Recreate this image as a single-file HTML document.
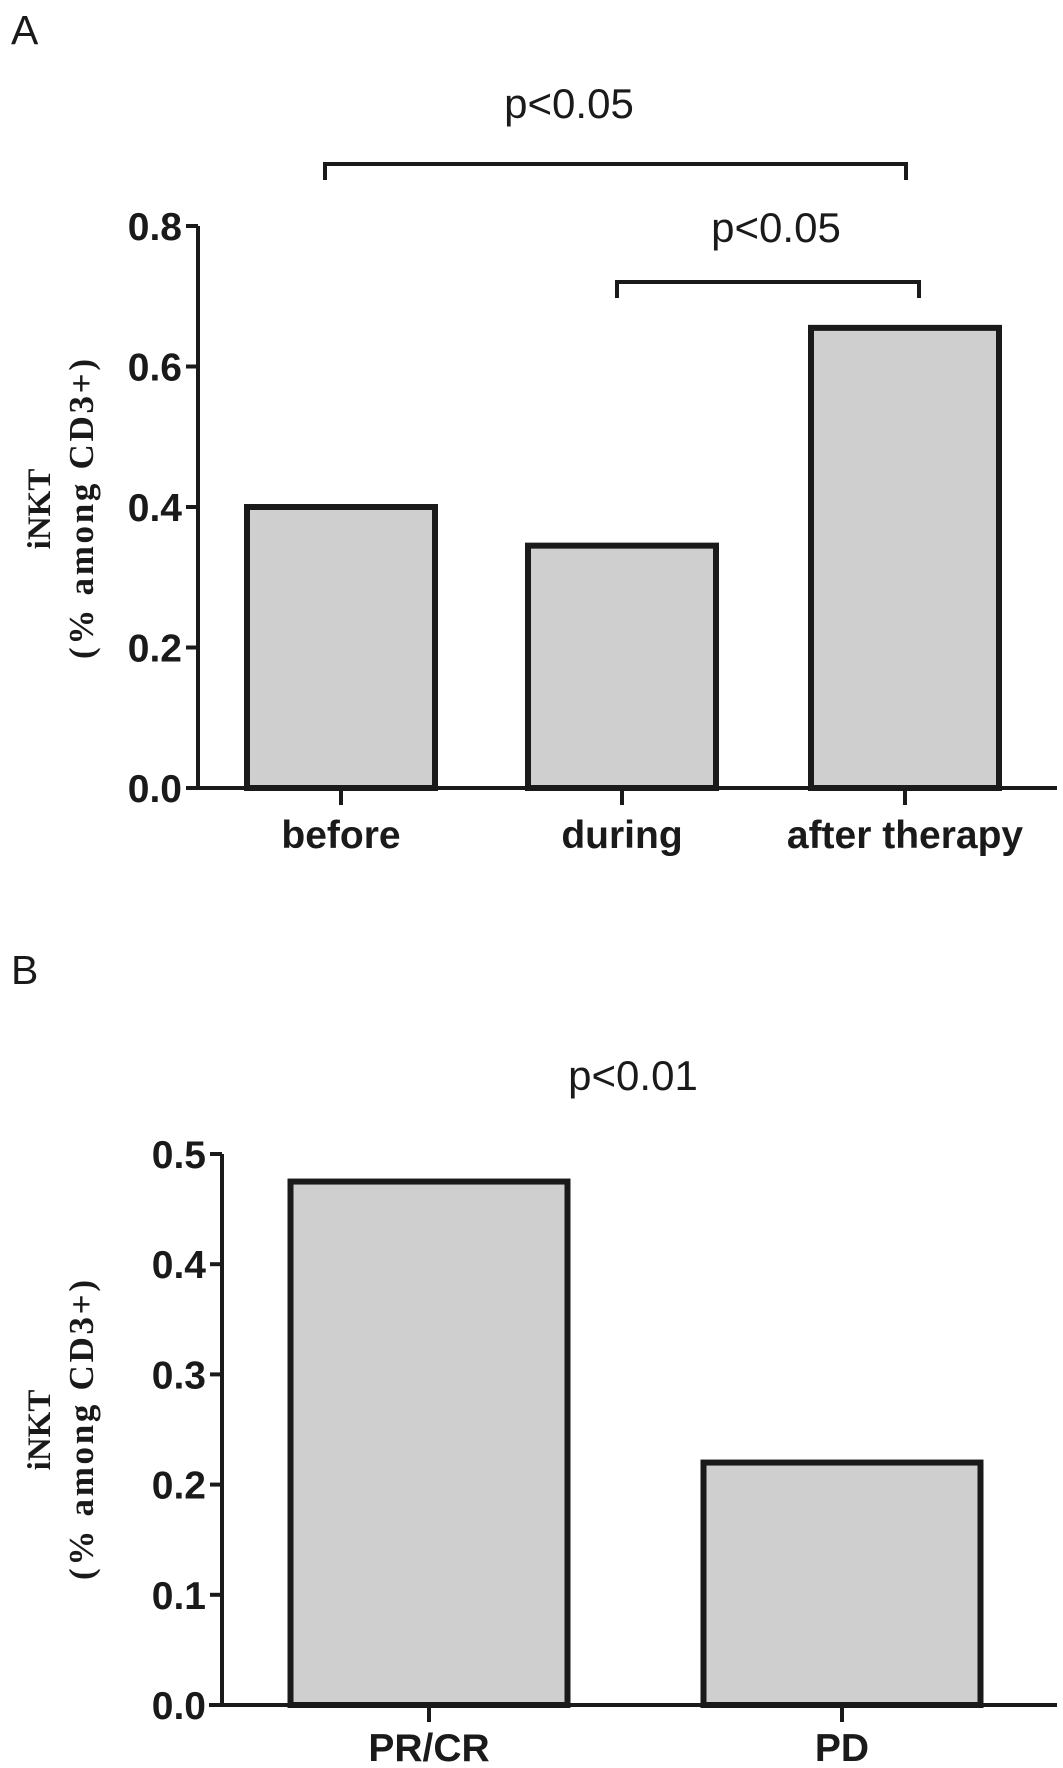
<!DOCTYPE html>
<html><head><meta charset="utf-8"><style>
html,body{margin:0;padding:0;background:#fff;}
svg{display:block;}
</style></head><body>
<svg id="fig" width="1063" height="1768" viewBox="0 0 1063 1768" xmlns="http://www.w3.org/2000/svg">
<g id="panelA"></g>
<g id="panelB"></g>
</svg>
<script>
const catsA = ["before","during","after therapy"];
const valsA = [0.40, 0.345, 0.655];
const ticksA = [0.0,0.2,0.4,0.6,0.8];
const tickLabelsA = ["0.0","0.2","0.4","0.6","0.8"];
const catsB = ["PR/CR","PD"];
const valsB = [0.475, 0.22];
const ticksB = [0.0,0.1,0.2,0.3,0.4,0.5];
const tickLabelsB = ["0.0","0.1","0.2","0.3","0.4","0.5"];
const NS="http://www.w3.org/2000/svg";
function mk(parent,tag,attrs,text){const e=document.createElementNS(NS,tag);for(const k in attrs)e.setAttribute(k,attrs[k]);if(text!==undefined)e.textContent=text;parent.appendChild(e);return e;}

function drawPanel(g,cfg){
  const y=v=>cfg.y0-(v-cfg.vmin)/(cfg.vmax-cfg.vmin)*(cfg.y0-cfg.y1);
  const x=i=>cfg.xc[i];
  cfg.vals.forEach((v,i)=>{
    const r=mk(g,'rect',{x:x(i)-cfg.bw/2,y:y(v),width:cfg.bw,height:cfg.y0-y(v),fill:'#cfcfcf',stroke:'#1a1a1a','stroke-width':6});
    
    
  });
  const ya=mk(g,'line',{x1:cfg.ax,y1:y(cfg.vmax),x2:cfg.ax,y2:cfg.y0+2,stroke:'#1a1a1a','stroke-width':4});
  
  
  const xa=mk(g,'line',{x1:cfg.xstart,y1:cfg.y0,x2:1057,y2:cfg.y0,stroke:'#1a1a1a','stroke-width':4});
  
  
  cfg.ticks.forEach((t,i)=>{
    const tl=mk(g,'line',{x1:cfg.ax-12,y1:y(t),x2:cfg.ax,y2:y(t),stroke:'#1a1a1a','stroke-width':4});
    
    
    const tx=mk(g,'text',{x:cfg.ax-16,y:y(t)+14,'text-anchor':'end','font-family':'Liberation Sans, sans-serif','font-weight':'bold','font-size':39,fill:'#1a1a1a'},cfg.tickLabels[i]);
    
    
  });
  cfg.cats.forEach((c,i)=>{
    const tl=mk(g,'line',{x1:x(i),y1:cfg.y0,x2:x(i),y2:cfg.y0+17,stroke:'#1a1a1a','stroke-width':4});
    
    
    const tx=mk(g,'text',{x:x(i),y:cfg.labY,'text-anchor':'middle','font-family':'Liberation Sans, sans-serif','font-weight':'bold','font-size':39,fill:'#1a1a1a'},c);
    
    
  });
  const t1=mk(g,'text',{transform:`translate(50,${cfg.tc}) rotate(-90)`,'text-anchor':'middle','font-family':'Liberation Serif, serif','font-weight':'bold','font-size':33,fill:'#1a1a1a'},'iNKT');
  
  
  const t2=mk(g,'text',{transform:`translate(93,${cfg.tc}) rotate(-90)`,'text-anchor':'middle','font-family':'Liberation Serif, serif','font-weight':'bold','font-size':35,fill:'#1a1a1a',textLength:cfg.tl,lengthAdjust:'spacing'},'(% among CD3+)');
  
  
}

const gA=document.getElementById('panelA');
drawPanel(gA,{cats:catsA,vals:valsA,ticks:ticksA,tickLabels:tickLabelsA,vmin:0,vmax:0.8,y0:788,y1:226,ax:198,xstart:187,xc:[341,622,905],bw:188,labY:848,tc:509,tl:300});
const gB=document.getElementById('panelB');
drawPanel(gB,{cats:catsB,vals:valsB,ticks:ticksB,tickLabels:tickLabelsB,vmin:0,vmax:0.5,y0:1705,y1:1154,ax:222,xstart:209,xc:[429,842],bw:277,labY:1761,tc:1430,tl:300});

const svg=document.getElementById('fig');
let e;
e=mk(svg,'text',{x:11,y:44,'font-family':'Liberation Sans, sans-serif','font-size':41,fill:'#1a1a1a'},'A');


e=mk(svg,'text',{x:11,y:984,'font-family':'Liberation Sans, sans-serif','font-size':41,fill:'#1a1a1a'},'B');


e=mk(svg,'path',{d:'M325 180 V164 H906 V180',fill:'none',stroke:'#1a1a1a','stroke-width':4});


e=mk(svg,'text',{x:569,y:118,'text-anchor':'middle','font-family':'Liberation Sans, sans-serif','font-size':42,fill:'#1a1a1a'},'p<0.05');


e=mk(svg,'path',{d:'M617 298 V282 H919 V298',fill:'none',stroke:'#1a1a1a','stroke-width':4});


e=mk(svg,'text',{x:776,y:242,'text-anchor':'middle','font-family':'Liberation Sans, sans-serif','font-size':42,fill:'#1a1a1a'},'p<0.05');


e=mk(svg,'text',{x:633,y:1090,'text-anchor':'middle','font-family':'Liberation Sans, sans-serif','font-size':42,fill:'#1a1a1a'},'p<0.01');


</script>
</body></html>
